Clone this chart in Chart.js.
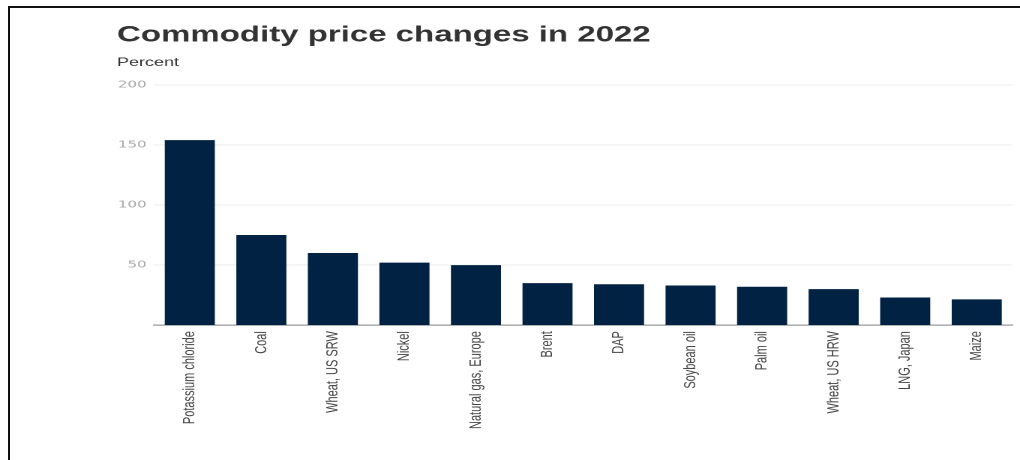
<!DOCTYPE html>
<html>
<head>
<meta charset="utf-8">
<script src="https://cdn.jsdelivr.net/npm/chart.js@4"></script>
<style>
  html, body { margin: 0; padding: 0; background: #fff; overflow: hidden; }
  body { width: 1020px; height: 460px; position: relative; }
  #wrap { position: absolute; left: 0; top: 0; width: 680px; height: 460px; transform: scaleX(1.5); transform-origin: 0 0; }
  #frame { position: absolute; left: 8px; top: 6px; width: 1100px; height: 600px; border-top: 2px solid #111; border-left: 2px solid #111; pointer-events: none; }
</style>
</head>
<body>
<div id="wrap"><canvas id="c"></canvas></div>
<div id="frame"></div>
<script>
const categories = ["Potassium chloride", "Coal", "Wheat, US SRW", "Nickel", "Natural gas, Europe", "Brent", "DAP", "Soybean oil", "Palm oil", "Wheat, US HRW", "LNG, Japan", "Maize"];
const priceChange = [154, 75, 60, 52, 50, 35, 34, 33, 32, 30, 23, 21.5];
const yTickValues = [50, 100, 150, 200];
const titleText = "Commodity price changes in 2022";
const subtitleText = "Percent";

const canvas = document.getElementById('c');
canvas.style.width = '680px';
canvas.style.height = '460px';

new Chart(canvas, {
  type: 'bar',
  data: {
    labels: categories,
    datasets: [{
      data: priceChange,
      backgroundColor: '#022244',
      borderWidth: 0,
      categoryPercentage: 1,
      barPercentage: 0.7
    }]
  },
  options: {
    responsive: false,
    animation: false,
    devicePixelRatio: 2,
    layout: { padding: { left: 78, right: 5, top: 10, bottom: 25 } },
    plugins: {
      legend: { display: false },
      tooltip: { enabled: false },
      title: {
        display: true, text: titleText, align: 'start', color: '#333',
        font: { family: 'Liberation Sans, Arial, sans-serif', size: 22, weight: 'bold' },
        padding: { top: 12, bottom: 4 }
      },
      subtitle: {
        display: true, text: subtitleText, align: 'start', color: '#333',
        font: { family: 'Liberation Sans, Arial, sans-serif', size: 12, weight: 'normal' },
        padding: { top: 3, bottom: 15 }
      }
    },
    scales: {
      x: {
        grid: { display: false, drawTicks: false },
        border: { display: true, color: '#999', width: 1.3 },
        ticks: {
          maxRotation: 90, minRotation: 90, padding: 6, color: '#444',
          font: { family: 'Liberation Sans, Arial, sans-serif', size: 11 }
        }
      },
      y: {
        min: 0, max: 200,
        afterBuildTicks: (axis) => { axis.ticks = yTickValues.map(v => ({ value: v })); },
        afterFit: (axis) => { axis.width = 24.7; },
        grid: { color: '#ececec', lineWidth: 1, drawTicks: false },
        border: { display: false },
        ticks: {
          padding: 5, color: '#aaa',
          font: { family: 'DejaVu Sans, sans-serif', size: 10 }
        }
      }
    }
  }
});
</script>
</body>
</html>
